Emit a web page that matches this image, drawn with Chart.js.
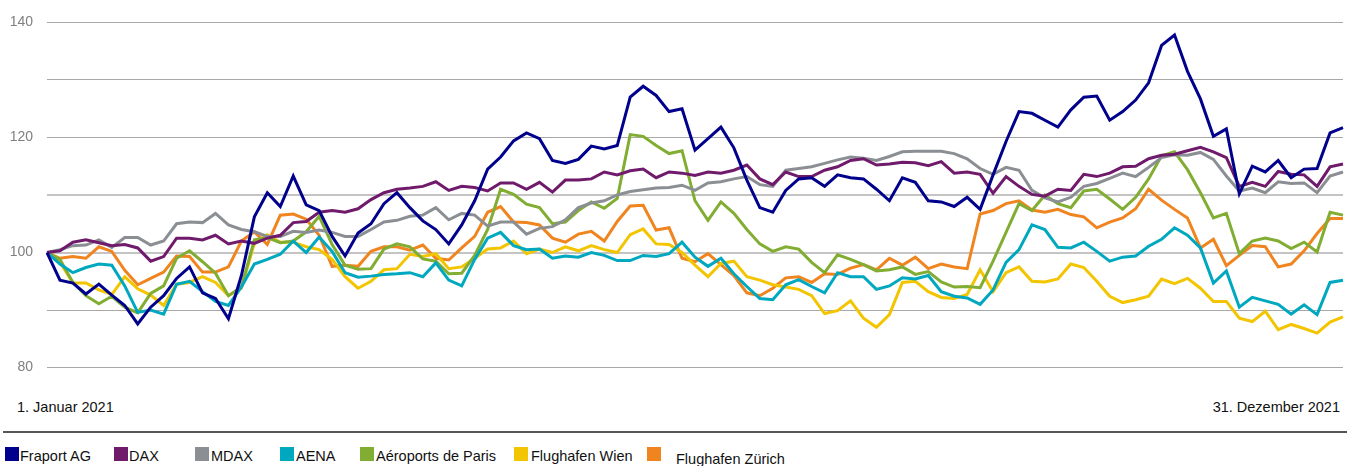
<!DOCTYPE html>
<html>
<head>
<meta charset="utf-8">
<script src="https://cdn.jsdelivr.net/npm/chart.js@4.4.0/dist/chart.umd.min.js"></script>
<style>
  html, body { margin: 0; padding: 0; background: #fff; }
  body { width: 1352px; height: 466px; position: relative; overflow: hidden;
         font-family: 'Liberation Sans', Arial, sans-serif; color: #111; }
  #wrap { position: absolute; left: 0; top: 0; width: 1352px; height: 390px; }
  .xlab { position: absolute; top: 399px; font-size: 14.5px; line-height: 16px; white-space: nowrap; }
  #rule { position: absolute; left: 3px; top: 431px; width: 1344px; height: 2px; background: #555; }
  .leg { position: absolute; top: 447px; height: 16px; font-size: 14.5px; line-height: 16px; white-space: nowrap; }
  .leg i { position: absolute; left: 0; top: 0; width: 14px; height: 14px; }
  .leg span { position: absolute; top: 1px; }
</style>
</head>
<body>
<div id="wrap"><canvas id="perfChart"></canvas></div>
<div class="xlab" id="xStart" style="left:17px"></div>
<div class="xlab" id="xEnd" style="right:12px"></div>
<div id="rule"></div>
<div id="legend"></div>
<script>
// indexed share price performance, 1 Jan 2021 = 100
const seriesNames = ['Fraport AG', 'DAX', 'MDAX', 'AENA', 'Aéroports de Paris', 'Flughafen Wien', 'Flughafen Zürich'];
const dateLabels = ['1. Januar 2021', '31. Dezember 2021'];
const yTickLabels = [140, 120, 100, 80];

const fraport = [100,95.2,94.7,92.8,94.5,92.6,90.8,87.6,90.5,92.5,95.5,97.5,93.0,92.0,88.5,96.0,106.2,110.4,108.0,113.3,
  108.3,107.3,102.8,99.4,103.4,105.0,108.5,110.4,107.8,105.5,104.0,101.5,104.8,109.0,114.5,116.6,119.4,120.8,119.8,116.0,
  115.5,116.2,118.5,118.0,118.6,127.0,128.9,127.3,124.5,125.0,117.8,119.8,121.8,118.2,112.6,107.8,107.0,110.8,112.8,113.0,
  111.5,113.5,113.0,112.8,111.0,109.0,113.0,112.2,109.0,108.8,108.0,109.6,107.5,113.5,119.3,124.5,124.2,123.0,121.8,124.8,
  127.0,127.2,123.0,124.5,126.5,129.5,136.0,137.8,131.5,126.7,120.2,121.5,110.2,115.0,114.0,116.0,113.0,114.5,114.6,120.8,121.7];
const dax = [100,100.3,101.8,102.2,101.7,101.2,101.4,100.8,98.5,99.3,102.5,102.5,102.2,103.0,101.5,102.0,101.6,102.5,103.0,105.2,
  105.4,107.0,107.3,107.0,107.6,109.2,110.4,111.0,111.2,111.5,112.3,110.8,111.5,111.3,110.7,112.1,112.1,111.0,112.2,110.5,
  112.6,112.6,112.8,114.0,113.5,114.2,114.5,113.0,114.0,113.8,113.4,114.0,113.8,114.3,115.2,112.8,111.8,114.0,113.2,113.2,
  114.3,114.9,116.0,116.3,115.2,115.4,115.7,115.6,115.1,115.8,113.8,114.0,113.6,110.3,113.2,111.5,110.1,109.8,111.0,110.8,
  113.6,113.2,113.8,114.9,115.0,116.3,116.9,117.1,117.7,118.3,117.5,116.5,111.5,112.2,111.5,114.1,113.6,113.5,111.5,114.9,115.4];
const mdax = [100,100.5,101.2,101.3,102.2,100.9,102.6,102.6,101.3,102.0,105.0,105.3,105.2,106.8,104.8,104.0,103.6,102.8,102.8,103.7,
  103.5,103.9,103.5,102.8,102.8,104.0,105.3,105.6,106.3,106.5,107.8,105.7,106.8,106.5,104.6,105.3,105.3,103.2,104.2,104.5,
  105.7,107.8,108.6,109.0,110.0,110.6,110.9,111.2,111.3,111.7,110.8,112.1,112.3,112.8,113.2,111.8,111.5,114.3,114.6,114.9,
  115.5,116.1,116.6,116.4,116.0,116.7,117.5,117.6,117.6,117.6,117.2,116.3,114.6,113.6,114.8,114.3,110.8,109.5,108.8,109.6,
  111.5,112.0,112.9,113.8,113.2,114.8,116.5,117.0,116.9,117.4,116.2,113.3,110.7,111.2,110.4,112.3,112.0,112.1,110.4,113.3,114.0];
const aena = [100,98.0,96.5,97.4,98.0,97.8,94.2,89.6,90.0,89.3,94.5,95.0,93.2,91.5,90.8,94.0,98.0,98.8,99.7,102.0,
  100.0,102.7,100.2,96.5,95.7,95.9,96.2,96.3,96.5,95.8,98.2,95.2,94.2,98.8,102.5,103.5,101.2,100.5,100.6,99.0,
  99.4,99.2,100.0,99.5,98.6,98.6,99.5,99.3,99.8,101.8,99.2,97.6,99.0,96.3,94.1,92.0,91.8,94.4,95.3,94.1,
  93.0,96.5,95.8,95.8,93.6,94.2,95.6,95.4,96.0,93.2,92.4,92.1,91.0,93.5,98.3,100.5,104.8,104.0,100.9,100.8,
  101.8,100.2,98.5,99.2,99.4,101.1,102.3,104.3,103.0,100.8,94.7,96.8,90.5,92.2,91.6,91.0,89.3,90.9,89.2,94.8,95.2];
const adp = [100,98.8,94.8,92.5,91.1,92.4,90.5,89.5,92.9,94.2,99.0,100.3,98.4,96.4,92.5,94.0,102.2,102.6,101.7,102.0,
  103.6,106.3,101.4,97.8,97.1,97.2,100.6,101.5,101.0,98.9,98.5,96.3,96.4,99.5,104.0,111.0,110.1,108.4,107.8,105.0,
  105.3,107.3,108.8,107.7,109.4,120.5,120.2,118.6,117.2,117.7,109.0,105.6,108.8,106.8,104.0,101.5,100.2,101.0,100.6,98.3,
  96.5,99.6,98.8,97.9,96.8,97.0,97.5,96.2,96.7,94.9,94.0,94.1,93.9,98.5,103.5,108.5,107.3,110.0,108.5,107.8,
  110.7,111.0,109.3,107.5,109.6,112.8,116.8,117.5,114.4,110.4,106.0,106.8,99.8,102.0,102.5,102.0,100.7,101.8,100.1,107.0,106.5];
const wien = [100,98.3,94.7,94.7,93.5,92.7,95.8,93.7,92.6,90.8,94.5,94.8,95.8,94.8,92.5,93.8,101.6,103.1,101.8,101.8,
  101.0,100.5,98.8,95.8,93.8,95.0,97.0,97.2,99.7,99.3,99.8,97.2,97.5,99.0,100.6,100.8,102.0,99.8,100.6,100.0,
  101.0,100.3,101.2,100.5,100.0,103.1,104.1,101.5,101.4,100.0,97.8,95.8,98.1,98.5,95.8,95.2,94.4,94.0,93.6,92.5,
  89.4,89.9,91.6,88.6,87.0,89.2,94.8,95.0,93.2,92.2,92.0,92.7,97.0,93.2,96.5,97.5,95.0,94.9,95.4,98.0,
  97.4,95.0,92.4,91.3,91.8,92.4,95.4,94.6,95.5,93.8,91.5,91.5,88.6,88.0,89.8,86.6,87.5,86.8,86.0,87.9,88.8];
const zuerich = [100,99.0,99.3,99.0,101.0,100.2,96.9,94.4,95.5,96.6,99.4,99.3,96.6,96.6,97.5,102.0,103.6,101.4,106.5,106.7,
  105.8,103.0,97.6,97.8,97.6,100.2,101.0,101.0,100.4,101.3,99.0,98.7,100.8,102.8,107.0,108.0,105.3,105.2,104.8,102.5,
  101.8,103.2,103.7,102.0,105.4,108.1,108.2,103.9,104.3,99.0,98.4,99.8,97.9,96.0,93.0,92.5,93.8,95.6,95.8,94.8,
  96.3,96.2,97.3,97.9,97.0,99.0,97.8,99.2,97.2,98.0,97.5,97.2,106.7,107.3,108.5,109.0,107.4,107.0,107.5,106.6,
  106.2,104.3,105.3,106.0,107.6,111.0,109.1,107.5,106.0,100.8,102.3,97.7,99.5,101.2,101.0,97.5,98.0,100.3,103.3,105.9,105.9];

const lineColors = ['#00008c', '#701a6c', '#8b8f94', '#00a8bf', '#80ad32', '#f2c500', '#f0841f'];
const legendX = [5, 114, 195, 280, 360, 514, 647];
const legendTextGap = [15, 15, 16, 16, 16, 17, 29];

const seriesData = [fraport, dax, mdax, aena, adp, wien, zuerich];
const categories = Array.from({ length: fraport.length }, (_, i) => i);

document.getElementById('xStart').textContent = dateLabels[0];
document.getElementById('xEnd').textContent = dateLabels[1];

// legend
const legendEl = document.getElementById('legend');
seriesNames.forEach((name, i) => {
  const item = document.createElement('div');
  item.className = 'leg';
  item.style.left = legendX[i] + 'px';
  const sq = document.createElement('i');
  sq.style.background = lineColors[i];
  const txt = document.createElement('span');
  txt.textContent = name;
  txt.style.left = legendTextGap[i] + 'px';
  if (i === 6) txt.style.top = '4px';
  item.appendChild(sq);
  item.appendChild(txt);
  legendEl.appendChild(item);
});

const ctx = document.getElementById('perfChart').getContext('2d');
const perfChart = new Chart(ctx, {
  type: 'line',
  data: {
    labels: categories,
    datasets: seriesNames.map((name, i) => ({
      label: name,
      data: seriesData[i],
      borderColor: lineColors[i],
      backgroundColor: lineColors[i],
      borderWidth: 3,
      pointRadius: 0,
      tension: 0,
      fill: false
    }))
  },
  options: {
    responsive: true,
    maintainAspectRatio: false,
    animation: false,
    layout: { padding: { left: 0, right: 9, top: 17, bottom: 16 } },
    plugins: { legend: { display: false }, tooltip: { enabled: false } },
    scales: {
      x: { display: false, offset: false },
      y: {
        min: 80, max: 140,
        afterFit: s => { s.width = 47; },
        border: { display: false },
        grid: {
          drawTicks: false,
          color: c => (c.tick && (c.tick.value === 110 || c.tick.value === 100)) ? '#c4c4c4' : '#a8a8a8',
          lineWidth: c => (c.tick && (c.tick.value === 110 || c.tick.value === 100)) ? 2 : 1
        },
        ticks: {
          stepSize: 10,
          padding: 14,
          color: '#7f7f7f',
          font: { family: "'Liberation Sans', Arial, sans-serif", size: 14 },
          callback: v => yTickLabels.includes(v) ? String(v) : ''
        }
      }
    }
  }
});
</script>
</body>
</html>
